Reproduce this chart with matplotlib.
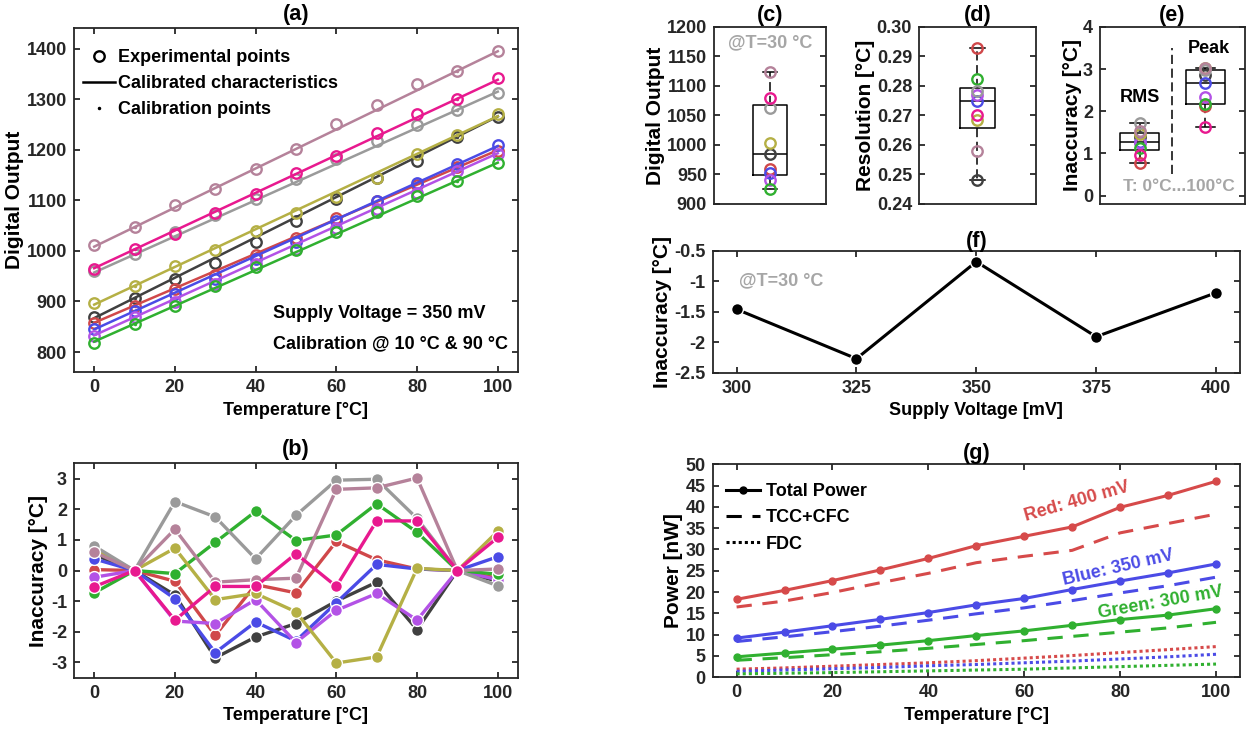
import numpy as np
import matplotlib.pyplot as plt
from matplotlib.lines import Line2D

plt.rcParams['font.family'] = ['Liberation Sans', 'DejaVu Sans']
plt.rcParams['font.weight'] = 'bold'
plt.rcParams['font.size'] = 13
plt.rcParams['axes.labelweight'] = 'bold'
plt.rcParams['axes.titleweight'] = 'bold'
plt.rcParams['axes.unicode_minus'] = False
plt.rcParams['axes.linewidth'] = 1.3
plt.rcParams['axes.edgecolor'] = '#262626'

YLAB = 15  # vertical labels look taller in the reference

# ---- data ----
temps = [0, 10, 20, 30, 40, 50, 60, 70, 80, 90, 100]
chip_colors = ['#404040', '#d0484a', '#4b4be6', '#b352e6', '#30b030',
               '#b5b045', '#9a9a9a', '#b5829a', '#e8198f']

# (b) inaccuracy per chip [°C]
inacc_black = [0.52, 0, -0.8, -2.85, -2.17, -1.73, -1.0, -0.38, -1.93, 0, -0.35]
inacc_red = [0.03, 0, -0.35, -2.12, -0.46, -0.73, 0.95, 0.35, 0.05, 0, -0.25]
inacc_blue = [0.38, 0, -0.92, -2.68, -1.68, -2.3, -1.05, 0.2, 0.05, 0, 0.45]
inacc_purple = [-0.22, 0, -1.65, -1.73, -0.95, -2.35, -1.3, -0.75, -1.62, 0, -0.3]
inacc_green = [-0.73, 0, -0.1, 0.92, 1.93, 0.98, 1.16, 2.18, 1.25, 0, -0.12]
inacc_olive = [0.7, 0, 0.73, -0.95, -0.75, -1.35, -3.02, -2.82, 0.07, 0, 1.28]
inacc_gray = [0.8, 0, 2.25, 1.75, 0.38, 1.8, 2.95, 2.98, 1.7, 0, -0.5]
inacc_mauve = [0.6, 0, 1.35, -0.38, -0.3, -0.25, 2.65, 2.7, 3.02, 0, 0.05]
inacc_magenta = [-0.53, 0, -1.62, -0.52, -0.52, 0.55, -0.52, 1.62, 1.62, 0, 1.08]
inacc_all = [inacc_black, inacc_red, inacc_blue, inacc_purple, inacc_green,
             inacc_olive, inacc_gray, inacc_mauve, inacc_magenta]

# (a) calibration points: code at 10 °C and 90 °C
cal_temps = [10, 90]
cal_codes = [[907, 1226], [892, 1165], [881, 1171], [869, 1157], [856, 1139],
             [931, 1229], [993, 1279], [1047, 1356], [1003, 1301]]

# (c) digital output @30 °C, (d) resolution, (e) rms / peak inaccuracy
code_30 = [985, 960, 953, 940, 926, 1003, 1063, 1124, 1079]
resolution = [0.2482, 0.2929, 0.2748, 0.2770, 0.2824, 0.2683, 0.2784, 0.2580, 0.2700]
inacc_rms = [1.40, 0.77, 1.27, 1.25, 1.12, 1.45, 1.73, 1.54, 0.97]
inacc_peak = [2.85, 2.12, 2.68, 2.35, 2.18, 3.02, 2.98, 3.03, 1.62]

# (f) inaccuracy vs supply @30 °C
volts = [300, 325, 350, 375, 400]
inacc_30 = [-1.46, -2.27, -0.68, -1.91, -1.19]

# (g) power [nW]
p_total_400 = [18.3, 20.4, 22.7, 25.2, 27.9, 30.9, 33.1, 35.3, 39.9, 42.7, 46.0]
p_tcc_400 = [16.5, 17.9, 19.9, 22.2, 24.4, 26.9, 28.4, 29.8, 33.9, 36.1, 38.3]
p_fdc_400 = [1.9, 2.2, 2.6, 3.0, 3.4, 3.9, 4.5, 5.1, 5.8, 6.5, 7.2]
p_total_350 = [9.2, 10.6, 12.1, 13.6, 15.2, 17.0, 18.5, 20.6, 22.6, 24.5, 26.6]
p_tcc_350 = [8.4, 9.5, 10.7, 12.0, 13.4, 14.9, 16.3, 18.0, 19.8, 21.5, 23.5]
p_fdc_350 = [1.4, 1.7, 2.0, 2.3, 2.7, 3.0, 3.4, 3.8, 4.3, 4.8, 5.4]
p_total_300 = [4.8, 5.7, 6.6, 7.55, 8.6, 9.8, 10.9, 12.2, 13.55, 14.6, 16.1]
p_tcc_300 = [4.0, 4.6, 5.3, 6.0, 6.8, 7.7, 8.6, 9.6, 10.6, 11.6, 12.9]
p_fdc_300 = [0.8, 0.95, 1.1, 1.3, 1.5, 1.7, 1.9, 2.2, 2.5, 2.8, 3.1]

red_g, blue_g, green_g = '#d64a4a', '#4b4be6', '#30b030'
note_gray = '#a6a6a6'


def style(ax):
    ax.tick_params(direction='in', top=True, right=True, length=4, width=1.3,
                   colors='#262626', labelcolor='#262626', pad=5)


def box_stats(vals):
    # matlab-like quartiles
    v = np.asarray(vals)
    q1, med, q3 = np.percentile(v, [25, 50, 75], method='hazen')
    iqr = q3 - q1
    return dict(med=med, q1=q1, q3=q3,
                whislo=v[v >= q1 - 1.5 * iqr].min(),
                whishi=v[v <= q3 + 1.5 * iqr].max(), fliers=[])


def draw_box(ax, vals, pos, width, capw):
    ax.bxp([box_stats(vals)], positions=[pos], widths=width, capwidths=capw,
           showfliers=False, manage_ticks=False,
           boxprops=dict(color='k', lw=1.1), medianprops=dict(color='k', lw=1.1),
           whiskerprops=dict(color='k', lw=1.1, ls=(0, (6, 3))),
           capprops=dict(color='k', lw=1.1))
    for v, c in zip(vals, chip_colors):
        ax.plot(pos, v, 'o', mfc='none', mec=c, ms=7.5, mew=1.7, zorder=3)


fig = plt.figure(figsize=(12.52, 7.45), dpi=100)

# ---------------- (a) ----------------
ax = fig.add_axes([0.0591, 0.5003, 0.3546, 0.4617])
for c, err, kk in zip(chip_colors, inacc_all, cal_codes):
    fit = np.polyfit(cal_temps, kk, 1)
    line = np.polyval(fit, temps)
    # experimental codes = calibrated line shifted by the measured error
    codes = line + np.array(err) * fit[0]
    ax.plot(temps, line, color=c, lw=1.8)
    ax.plot(temps, codes, 'o', mfc='none', mec=c, ms=7.5, mew=1.7)
    ax.plot(cal_temps, kk, '.', color=c, ms=3)
ax.set_xlim(-5, 105)
ax.set_ylim(760, 1440)
ax.set_xticks(range(0, 101, 20))
ax.set_yticks(range(800, 1401, 100))
ax.set_xlabel('Temperature [°C]')
ax.set_ylabel('Digital Output', fontsize=YLAB, labelpad=2)
ax.set_title('(a)', pad=6)
style(ax)
handles = [Line2D([], [], ls='none', marker='o', mfc='none', mec='k', ms=7.5, mew=1.7),
           Line2D([], [], color='k', lw=1.8),
           Line2D([], [], ls='none', marker='.', color='k', ms=3)]
ax.legend(handles, ['Experimental points', 'Calibrated characteristics', 'Calibration points'],
          loc='upper left', bbox_to_anchor=(0.02, 0.94), frameon=False, borderpad=0,
          borderaxespad=0, handlelength=1.8, handletextpad=0.15, labelspacing=0.5)
ax.text(0.4475, 0.1715, 'Supply Voltage = 350 mV', transform=ax.transAxes, va='center')
ax.text(0.4475, 0.0843, 'Calibration @ 10 °C & 90 °C', transform=ax.transAxes, va='center')

# ---------------- (b) ----------------
ax = fig.add_axes([0.0591, 0.0903, 0.3546, 0.2878])
for c, err in zip(chip_colors, inacc_all):
    ax.plot(temps, err, '-o', color=c, mfc=c, mec='white', ms=8.5, mew=1.0, lw=2.4)
ax.set_xlim(-5, 105)
ax.set_ylim(-3.5, 3.5)
ax.set_xticks(range(0, 101, 20))
ax.set_yticks(range(-3, 4))
ax.set_xlabel('Temperature [°C]')
ax.set_ylabel('Inaccuracy [°C]', fontsize=YLAB, labelpad=2)
ax.set_title('(b)', pad=6)
style(ax)

# ---------------- (c) ----------------
ax = fig.add_axes([0.5703, 0.7262, 0.0895, 0.2376])
draw_box(ax, code_30, 1, 0.3, 0.12)
ax.set_xlim(0.5, 1.5)
ax.set_ylim(900, 1200)
ax.set_yticks(range(900, 1201, 50))
ax.set_xticks([])
ax.set_ylabel('Digital Output', fontsize=YLAB, labelpad=1)
ax.set_title('(c)', pad=4)
style(ax)
ax.text(0.5, 0.908, '@T=30 °C', color=note_gray, transform=ax.transAxes, ha='center', va='center')

# ---------------- (d) ----------------
ax = fig.add_axes([0.734, 0.7262, 0.0935, 0.2376])
draw_box(ax, resolution, 1, 0.3, 0.12)
ax.set_xlim(0.5, 1.5)
ax.set_ylim(0.24, 0.30)
ax.set_yticks(np.arange(0.24, 0.3001, 0.01))
ax.set_yticklabels(['0.24', '0.25', '0.26', '0.27', '0.28', '0.29', '0.30'])
ax.set_xticks([])
ax.set_ylabel('Resolution [°C]', fontsize=YLAB, labelpad=1)
ax.set_title('(d)', pad=4)
style(ax)

# ---------------- (e) ----------------
ax = fig.add_axes([0.8786, 0.7262, 0.1158, 0.2376])
draw_box(ax, inacc_rms, 1, 0.6, 0.3)
draw_box(ax, inacc_peak, 2, 0.6, 0.3)
ax.plot([1.5, 1.5], [0.5, 3.5], color='k', lw=1.1, ls=(0, (6, 3)))
ax.set_xlim(0.4, 2.6)
ax.set_ylim(-0.2, 4)
ax.set_yticks(range(0, 5))
ax.set_xticks([])
ax.set_ylabel('Inaccuracy [°C]', fontsize=YLAB, labelpad=1)
ax.set_title('(e)', pad=4)
style(ax)
ax.text(1.0, 2.32, 'RMS', ha='center', va='center')
ax.text(2.05, 3.5, 'Peak', ha='center', va='center')
ax.text(1.6, 0.21, 'T: 0°C...100°C', color=note_gray, ha='center', va='center', fontsize=12.5)

# ---------------- (f) ----------------
ax = fig.add_axes([0.5692, 0.4997, 0.4212, 0.1638])
ax.plot(volts, inacc_30, '-o', color='k', ms=8.5, mec='white', mew=1.0, lw=2.2)
ax.set_xlim(295, 405)
ax.set_ylim(-2.5, -0.5)
ax.set_xticks(volts)
ax.set_yticks([-2.5, -2, -1.5, -1, -0.5])
ax.set_yticklabels(['-2.5', '-2', '-1.5', '-1', '-0.5'])
ax.set_xlabel('Supply Voltage [mV]')
ax.set_ylabel('Inaccuracy [°C]', fontsize=YLAB, labelpad=2)
ax.set_title('(f)', pad=3)
style(ax)
ax.text(300.5, -1.0, '@T=30 °C', color=note_gray, va='center')

# ---------------- (g) ----------------
ax = fig.add_axes([0.5692, 0.0909, 0.4212, 0.2859])
for col, tot, tcc, fdc in [(red_g, p_total_400, p_tcc_400, p_fdc_400),
                           (blue_g, p_total_350, p_tcc_350, p_fdc_350),
                           (green_g, p_total_300, p_tcc_300, p_fdc_300)]:
    ax.plot(temps, tot, '-', marker='.', color=col, lw=2.2, ms=10)
    ax.plot(temps, tcc, color=col, lw=2.2, ls=(0, (5, 3.5)))
    ax.plot(temps, fdc, color=col, lw=2.2, ls=(0, (1, 1)))
ax.set_xlim(-5, 105)
ax.set_ylim(0, 50)
ax.set_xticks(range(0, 101, 20))
ax.set_yticks(range(0, 51, 5))
ax.set_xlabel('Temperature [°C]')
ax.set_ylabel('Power [nW]', fontsize=YLAB, labelpad=2)
ax.set_title('(g)', pad=4)
style(ax)
handles = [Line2D([], [], color='k', lw=2.2, marker='.', ms=10),
           Line2D([], [], color='k', lw=2.2, ls=(0, (5, 3.5))),
           Line2D([], [], color='k', lw=2.2, ls=(0, (1, 1)))]
ax.legend(handles, ['Total Power', 'TCC+CFC', 'FDC'], loc='upper left',
          bbox_to_anchor=(0.025, 0.91), frameon=False, borderpad=0, borderaxespad=0,
          handlelength=1.9, handletextpad=0.3, labelspacing=0.5)
ax.text(71, 41.3, 'Red: 400 mV', color=red_g, rotation=16, ha='center', va='center')
ax.text(79.5, 25.7, 'Blue: 350 mV', color=blue_g, rotation=13, ha='center', va='center')
ax.text(88.4, 17.5, 'Green: 300 mV', color=green_g, rotation=10, ha='center', va='center')

fig.savefig('out.png', dpi=100)
